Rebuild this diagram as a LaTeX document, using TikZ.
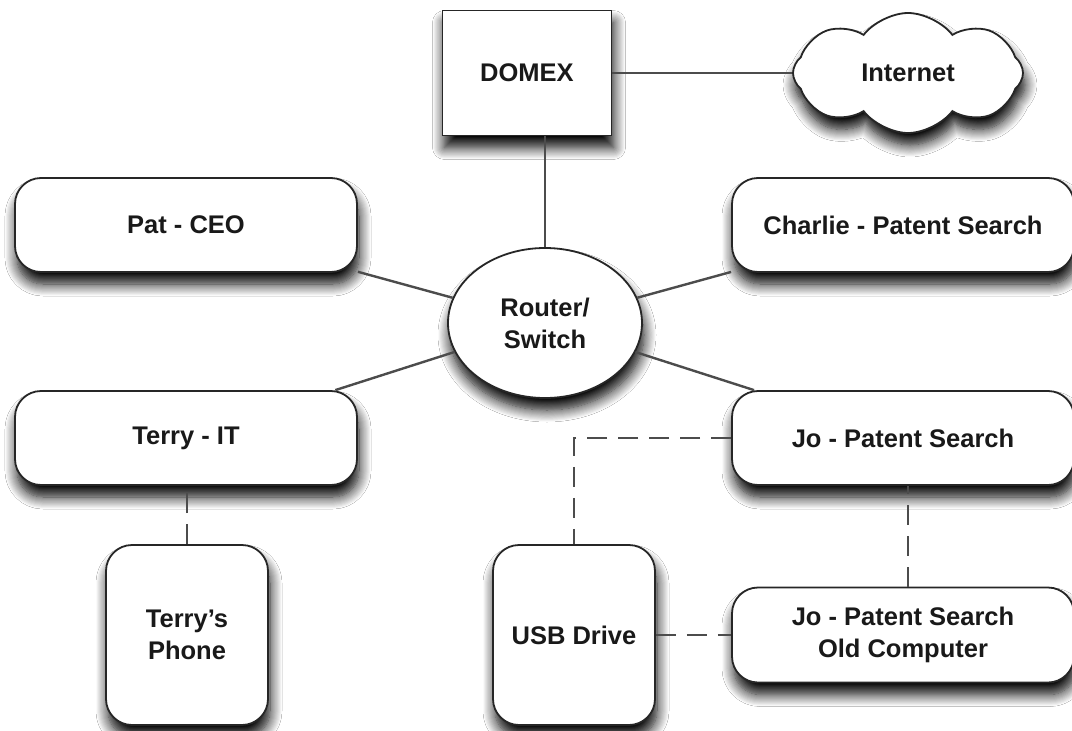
\documentclass[tikz,border=0pt]{standalone}
\usepackage{fontspec}
\setmainfont{Liberation Sans}
\usetikzlibrary{shapes.geometric,shapes.symbols,shadows.blur}
\begin{document}
\begin{tikzpicture}[x=1pt,y=-1pt,
  softshadow/.style={blur shadow={shadow xshift=2pt,shadow yshift=-12pt,shadow blur radius=12pt,shadow blur steps=12,shadow opacity=100}},
  base/.style={draw=black!85,line width=1.8pt,fill=white,softshadow,
    font=\fontsize{25.5}{32}\selectfont\bfseries,text=black!90,align=center,inner sep=0pt},
  roundbox/.style={base,rounded corners=26pt,minimum width=342pt,minimum height=94pt},
  tallbox/.style={base,rounded corners=26pt,minimum width=162pt,minimum height=180pt},
  plainbox/.style={base,minimum width=169pt,minimum height=125pt},
  hub/.style={base,ellipse,minimum width=194pt,minimum height=150pt},
  net/.style={base,cloud,cloud puffs=8,cloud puff arc=105,aspect=1.9,minimum width=230pt,minimum height=120pt},
  link/.style={draw=black!70,line width=2.4pt},
  dashlink/.style={link,dash pattern=on 20pt off 11pt}]
\fill[white] (0,0) rectangle (1072,731);
\useasboundingbox (0,0) rectangle (1072,731);

% devices
\node[plainbox] (domex) at (527,73) {DOMEX};
\node[net] (internet) at (908,73) {Internet};
\node[hub] (router) at (545,323) {Router/\\Switch};
\node[roundbox] (pat) at (186,225) {Pat - CEO};
\node[roundbox] (charlie) at (903,225) {Charlie - Patent Search};
\node[roundbox] (terry) at (186,438) {Terry - IT};
\node[roundbox] (jo) at (903,438) {Jo - Patent Search};
\node[tallbox] (phone) at (187,635) {Terry's\\Phone};
\node[tallbox] (usb) at (574,635) {USB Drive};
\node[roundbox,minimum height=95pt] (old) at (903,635) {Jo - Patent Search\\Old Computer};

% network links
\draw[link] (domex.east) -- (internet.west);
\draw[link] (router.north) -- (router.north |- domex.south);
\draw[link] (pat) -- (router);
\draw[link] (charlie) -- (router);
\draw[link] (terry) -- (router);
\draw[link] (jo) -- (router);

% occasional connections
\draw[dashlink] (phone.north) -- (phone.north |- terry.south);
\draw[dashlink] (jo.west) -| (usb.north);
\draw[dashlink] ([xshift=5pt]old.north) -- ([xshift=5pt]old.north |- jo.south);
\draw[dashlink] (usb.east) -- (old.west);
\end{tikzpicture}
\end{document}
